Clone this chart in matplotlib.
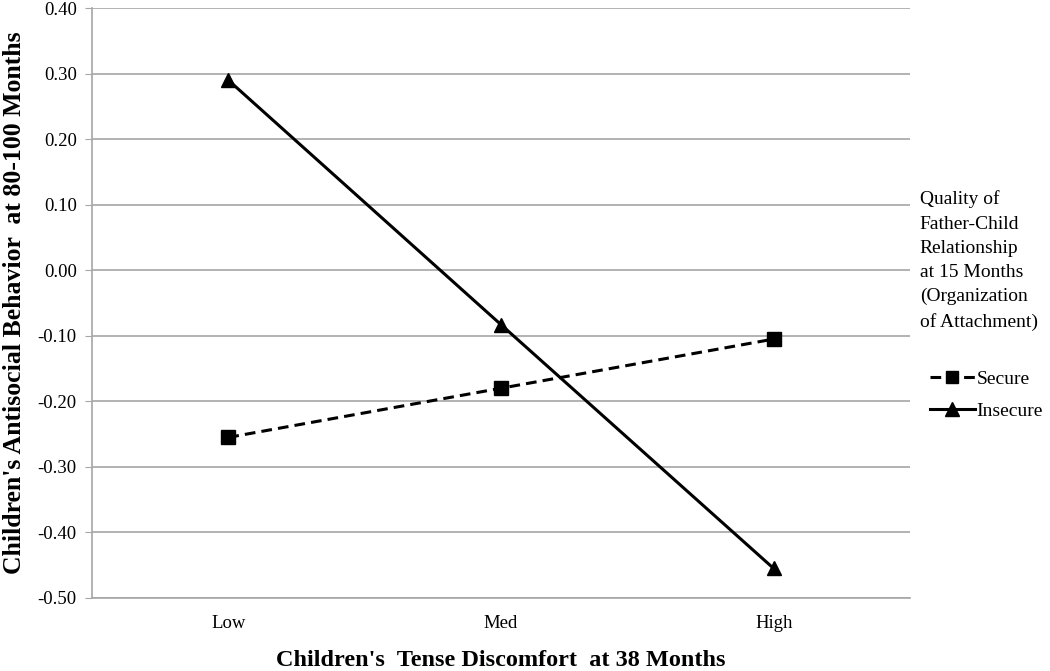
import matplotlib
matplotlib.use("Agg")
import matplotlib.pyplot as plt
from matplotlib.lines import Line2D

# Data
categories = ["Low", "Med", "High"]
secure = [-0.255, -0.180, -0.105]
insecure = [0.290, -0.083, -0.455]
y_ticks = [0.40, 0.30, 0.20, 0.10, 0.00, -0.10, -0.20, -0.30, -0.40, -0.50]

plt.rcParams["font.family"] = ["Liberation Serif", "DejaVu Serif"]

fig = plt.figure(figsize=(10.5, 6.71), dpi=100)
ax = fig.add_axes([0.0876, 0.1088, 0.7791, 0.8792])

x = range(len(categories))
ax.plot(x, secure, color="black", linestyle=(0, (3.5, 2)), linewidth=2.2,
        marker="s", markersize=9.5)
ax.plot(x, insecure, color="black", linestyle="-", linewidth=2.2,
        marker="^", markersize=10.5)

ax.set_xlim(-0.5, 2.5)
ax.set_ylim(-0.50, 0.40)
ax.set_yticks(y_ticks)
ax.set_yticklabels([f"{v:.2f}" for v in y_ticks])
ax.set_xticks(list(x))
ax.set_xticklabels(categories)
ax.tick_params(axis="y", length=5, color="#A6A6A6", labelsize=13.5, pad=6)
ax.tick_params(axis="x", length=0, labelsize=13.5, pad=12)

ax.grid(axis="y", color="#A6A6A6", linewidth=1.2)
ax.set_axisbelow(True)
for side in ["top", "right"]:
    ax.spines[side].set_visible(False)
for side in ["left", "bottom"]:
    ax.spines[side].set_color("#A6A6A6")
    ax.spines[side].set_linewidth(1.2)

ax.set_ylabel("Children's Antisocial Behavior  at 80-100 Months",
              fontsize=18.5, fontweight="bold", labelpad=8)
ax.set_xlabel("Children's  Tense Discomfort  at 38 Months",
              fontsize=17.5, fontweight="bold", labelpad=13)

# Legend title as free text, entries as a legend
fig.text(0.876, 0.716,
         "Quality of\nFather-Child\nRelationship\nat 15 Months\n(Organization\nof Attachment)",
         fontsize=14, ha="left", va="top", linespacing=1.55)

handles = [
    Line2D([], [], color="black", linestyle=(0, (3.5, 2)), linewidth=2.2, marker="s", markersize=9),
    Line2D([], [], color="black", linestyle="-", linewidth=2.2, marker="^", markersize=10),
]
fig.legend(handles, ["Secure", "Insecure"], loc="upper left",
           bbox_to_anchor=(0.869, 0.474), frameon=False, fontsize=14,
           handlelength=2.3, handletextpad=0.1, labelspacing=0.75)

fig.savefig("out.png", dpi=100)
